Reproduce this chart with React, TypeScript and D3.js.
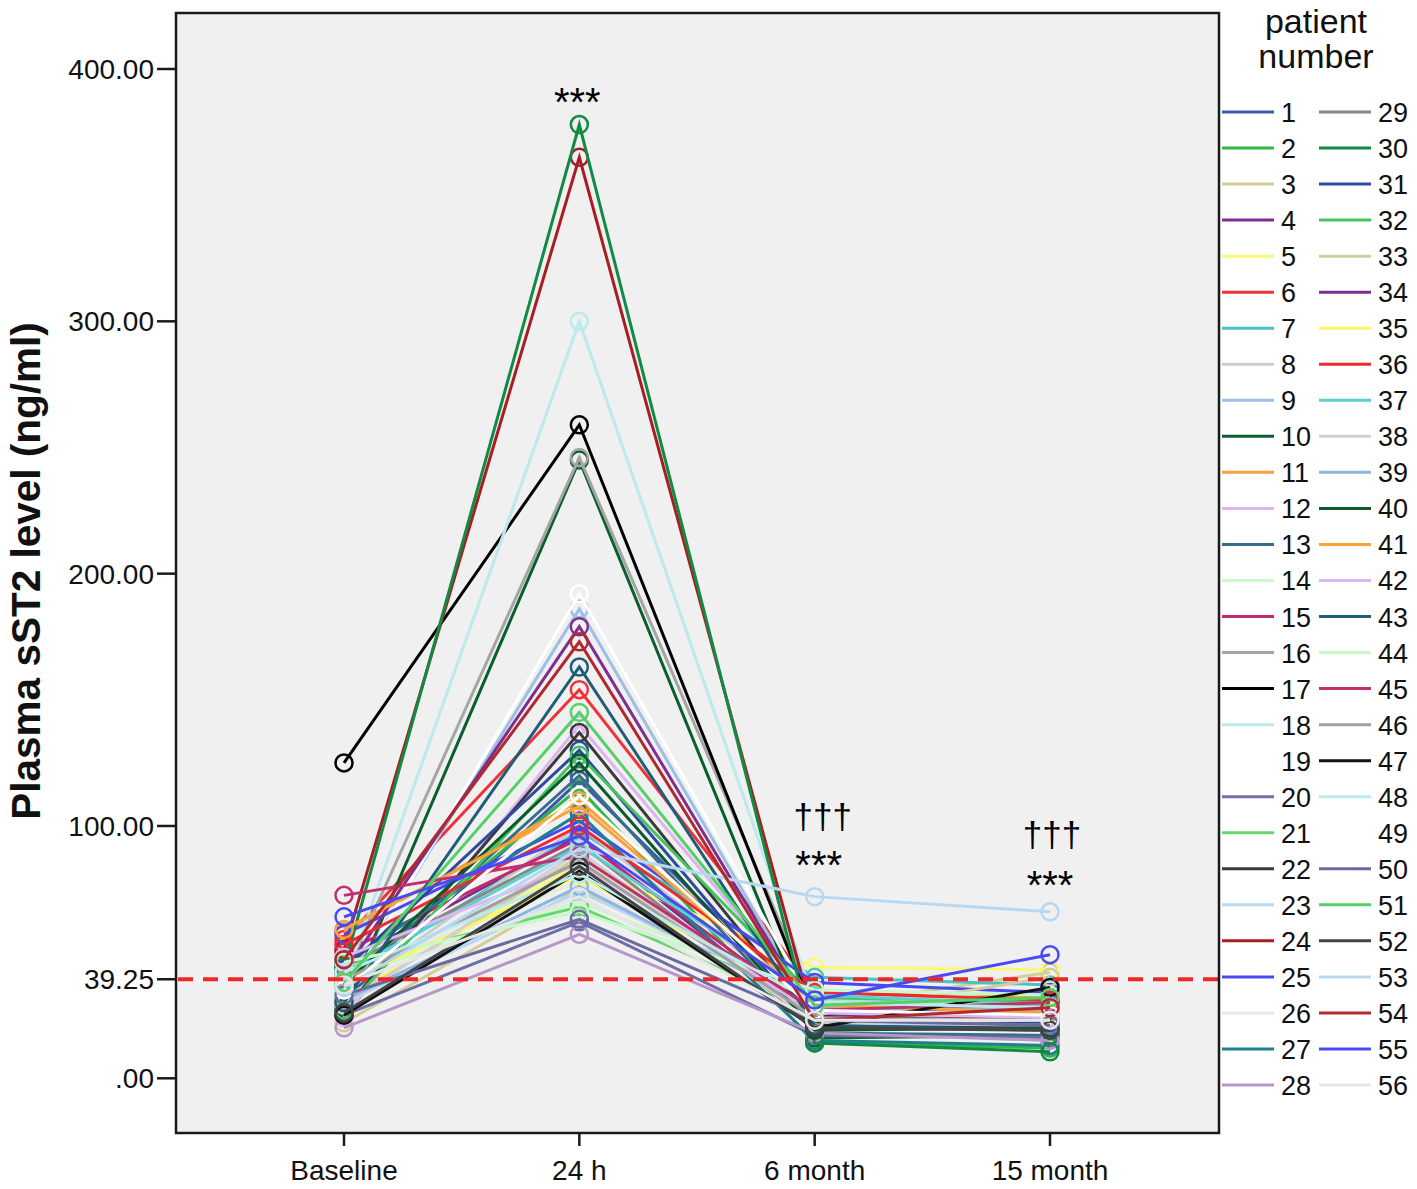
import React from "react";
import * as d3 from "d3";

const timepoints = ["Baseline", "24 h", "6 month", "15 month"];
const yTicks = [0, 39.25, 100, 200, 300, 400];
const yTickLabels = [".00", "39.25", "100.00", "200.00", "300.00", "400.00"];
const cutoff = 39.25;

const patients = d3.range(1, 57);

const patientColors = [
  "#3e58ac", "#2eb848", "#d3ce97", "#7c2f8d", "#fbf873", "#ef3338", "#48c2c5",
  "#cccccc", "#9dbfe4", "#0a5f2f", "#f8a03b", "#dcb5f0", "#376e8a", "#ccf7cc",
  "#c12a6e", "#a5a5a5", "#000000", "#bde9ea", "#ffffff", "#6f6fa8", "#66d66e",
  "#3a3a3a", "#b8d8f2", "#a81d24", "#4848f5", "#e8e8e8", "#1f7f8f", "#b797c8",
  "#888888", "#118a44", "#2c4aa0", "#43c45d", "#d2cc9f", "#7e2f8e", "#fbf56a",
  "#ee2a2e", "#5ecfd0", "#d0d0d0", "#8cb6e0", "#0b5a2c", "#f9a13a", "#dcb8f2",
  "#1f5e78", "#c8f8c8", "#c0306e", "#a0a0a0", "#111111", "#b8ecec", "#ffffff",
  "#6a6aa0", "#55d066", "#444444", "#b8d8f2", "#b02830", "#4a4af5", "#e6e6e6",
];

const baseline = [
  31, 39, 22, 46, 32, 55, 39, 34, 35, 28, 58, 24, 36, 40, 50, 40, 125, 38, 33, 25,
  45, 27, 30, 51, 57, 41, 46, 20, 44, 44, 43, 27, 30, 42, 38, 53, 42, 29, 31, 37,
  59, 48, 30, 46, 72.5, 39, 25, 42, 35, 33, 38, 26, 36, 47, 64, 37,
];
const h24 = [
  118, 115, 75, 96, 85, 154, 98, 100, 186, 245, 110, 140, 120, 70, 95, 246, 259, 300, 192, 62,
  68, 137, 74, 365, 102, 78, 105, 57, 93, 378, 130, 128, 88, 179, 80, 100, 92, 90, 76, 125,
  108, 85, 163, 66, 88, 86, 82, 81, 112, 63, 145, 84, 91, 173, 96, 72,
];
const month6 = [
  26, 14, 28, 22, 44, 35, 40, 27, 25, 16, 31, 29, 18, 33, 26, 30, 25, 30, 28, 17,
  27, 22, 31, 22, 38, 24, 15, 18, 21, 14, 20, 32, 25, 24, 30, 34, 33, 22, 28, 19,
  29, 26, 21, 35, 27, 24, 20, 30, 27, 23, 29, 20, 72, 23, 31, 23,
];
const month15 = [
  24, 12, 42, 24, 43, 30, 37, 25, 27, 17, 33, 27, 17, 31, 26, 28, 22, 35, 26, 16,
  25, 20, 29, 25, 34, 22, 13, 15, 22, 10.5, 22, 30, 40, 30, 28, 31, 29, 21, 27, 20,
  26, 24, 19, 33, 30, 23, 36, 28, 25, 21, 32, 19, 66, 28, 49, 23,
];

const W = 1417;
const H = 1189;
const plot = { left: 176, top: 13, right: 1219, bottom: 1133 };
const FONT = "'Liberation Sans', Arial, sans-serif";

export default function App() {
  const x = d3
    .scalePoint<string>()
    .domain(timepoints)
    .range([344, 1050]);
  const y = d3.scaleLinear().domain([0, 400]).range([1078.3, 69]);

  const series = patients.map((p, i) => ({
    id: p,
    color: patientColors[i],
    values: [baseline[i], h24[i], month6[i], month15[i]],
  }));

  const line = d3
    .line<number>()
    .x((_, j) => x(timepoints[j]) as number)
    .y((v) => y(v));

  const legendRows = 28;
  const legendY = d3
    .scaleLinear()
    .domain([0, legendRows - 1])
    .range([112, 1085]);

  return (
    <svg
      width={W}
      height={H}
      style={{ position: "absolute", left: 0, top: 0, background: "#ffffff" }}
      fontFamily={FONT}
    >
      <rect x={0} y={0} width={W} height={H} fill="#ffffff" />
      <rect
        x={plot.left}
        y={plot.top}
        width={plot.right - plot.left}
        height={plot.bottom - plot.top}
        fill="#f0f0f0"
      />
      {/* series */}
      <g>
        {series.map((s) => (
          <g key={s.id}>
            <path d={line(s.values) || ""} fill="none" stroke={s.color} strokeWidth={3} />
            {s.values.map((v, j) => (
              <circle
                key={j}
                cx={x(timepoints[j])}
                cy={y(v)}
                r={8.5}
                fill="none"
                stroke={s.color}
                strokeWidth={2.5}
              />
            ))}
          </g>
        ))}
      </g>
      {/* reference line */}
      <line
        x1={plot.left + 2}
        x2={plot.right}
        y1={y(cutoff)}
        y2={y(cutoff)}
        stroke="#ee2626"
        strokeWidth={4}
        strokeDasharray="15,10"
      />
      {/* frame */}
      <rect
        x={plot.left}
        y={plot.top}
        width={plot.right - plot.left}
        height={plot.bottom - plot.top}
        fill="none"
        stroke="#1a1a1a"
        strokeWidth={2.5}
      />
      {/* y axis */}
      <g>
        {yTicks.map((t, i) => (
          <g key={t}>
            <line x1={157} x2={plot.left} y1={y(t)} y2={y(t)} stroke="#1a1a1a" strokeWidth={2.5} />
            <text
              x={154}
              y={y(t)}
              dy={10}
              textAnchor="end"
              fontSize={28}
              fill="#111"
            >
              {yTickLabels[i]}
            </text>
          </g>
        ))}
        <text
          transform={`translate(40,571) rotate(-90)`}
          textAnchor="middle"
          fontSize={40.5}
          fontWeight="bold"
          fill="#111"
        >
          Plasma sST2 level (ng/ml)
        </text>
      </g>
      {/* x axis */}
      <g>
        {timepoints.map((t) => (
          <g key={t}>
            <line
              x1={x(t)}
              x2={x(t)}
              y1={plot.bottom}
              y2={plot.bottom + 13}
              stroke="#1a1a1a"
              strokeWidth={2.5}
            />
            <text x={x(t)} y={1180} textAnchor="middle" fontSize={28} fill="#111">
              {t}
            </text>
          </g>
        ))}
      </g>
      {/* significance annotations */}
      <g fill="#000" textAnchor="middle">
        <text x={(x("24 h") as number) - 2} y={116} fontSize={40}>***</text>
        <text x={(x("6 month") as number) + 8} y={829} fontSize={35}>†††</text>
        <text x={(x("6 month") as number) + 4} y={879} fontSize={40}>***</text>
        <text x={(x("15 month") as number) + 2} y={847} fontSize={35}>†††</text>
        <text x={x("15 month")} y={899} fontSize={40}>***</text>
      </g>
      {/* legend */}
      <g>
        <text x={1316} y={33} textAnchor="middle" fontSize={34} fill="#111">
          patient
        </text>
        <text x={1316} y={68} textAnchor="middle" fontSize={34} fill="#111">
          number
        </text>
        {series.map((s, i) => {
          const col = Math.floor(i / legendRows);
          const row = i % legendRows;
          const ly = legendY(row);
          const lx = col === 0 ? 1222 : 1319;
          return (
            <g key={s.id}>
              <line x1={lx} x2={lx + 52} y1={ly} y2={ly} stroke={s.color} strokeWidth={3} />
              <text x={lx + 59} y={ly} dy={10} fontSize={27} fill="#111">
                {s.id}
              </text>
            </g>
          );
        })}
      </g>
    </svg>
  );
}
